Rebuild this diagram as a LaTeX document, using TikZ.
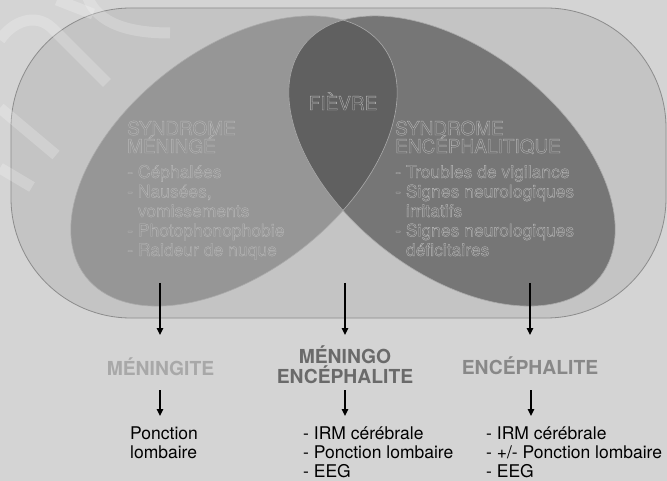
\documentclass[tikz,border=0pt]{standalone}
\usepackage{fontspec}
\setmainfont{TeX Gyre Heros}
\usetikzlibrary{arrows.meta}
\definecolor{bg}{HTML}{D4D4D4}
\definecolor{rectfill}{HTML}{C4C4C4}
\definecolor{rectline}{HTML}{8C8C8C}
\definecolor{lellip}{HTML}{969696}
\definecolor{rellip}{HTML}{767676}
\definecolor{lensc}{HTML}{606060}
\definecolor{ellline}{HTML}{ABABAB}
\definecolor{outtxt}{HTML}{B8B8B8}
\definecolor{labA}{HTML}{A8A8A8}
\definecolor{labB}{HTML}{6A6A6A}
\definecolor{labC}{HTML}{888888}
\newcommand\outlon{\special{pdf:literal direct 1 Tr 0.35 w}}
\newcommand\outloff{\special{pdf:literal direct 0 Tr}}
\tikzset{
  outl/.style={text=outtxt, inner sep=0pt, align=left, anchor=base west},
  headf/.style={font=\fontsize{19}{18}\selectfont},
  itmf/.style={font=\fontsize{17.5}{19.5}\selectfont},
  lab/.style={font=\bfseries\fontsize{19.3}{18}\selectfont, inner sep=0pt, anchor=base, align=center},
  lst/.style={font=\fontsize{17.5}{19}\selectfont, inner sep=0pt, anchor=base west, align=left},
  arr/.style={line width=1.3pt, -{Triangle[length=7pt,width=6.5pt]}},
  wmark/.style={white, opacity=0.22, line width=11pt},
  leftell/.style={rotate around={38:(234,161)}},
  rightell/.style={rotate around={-38:(452,161)}}
}
\begin{document}
\begin{tikzpicture}[x=1pt,y=-1pt]
\useasboundingbox (0,0) rectangle (667,481);
\fill[bg] (0,0) rectangle (667,481);
% frame
\draw[rectline, fill=rectfill, line width=0.8pt, rounded corners=120pt] (11,8) rectangle (666,318);
% faint watermark
\draw[wmark] (0,40) .. controls (12,22) and (35,12) .. (52,28) -- (107,83);
\draw[wmark] (0,108) -- (56,155);
\draw[wmark] (0,168) -- (32,187);
\draw[wmark] (57,0) -- (93,14);
\draw[wmark] (88,-2) .. controls (98,24) and (130,33) .. (170,33);
% ellipses
\fill[lellip, leftell] (234,161) ellipse [x radius=188, y radius=111];
\fill[rellip, rightell] (452,161) ellipse [x radius=188, y radius=111];
\begin{scope}
  \clip[leftell] (234,161) ellipse [x radius=188, y radius=111];
  \fill[lensc, rightell] (452,161) ellipse [x radius=188, y radius=111];
\end{scope}
\draw[ellline, line width=0.6pt, leftell] (234,161) ellipse [x radius=188, y radius=111];
\draw[ellline, line width=0.6pt, rightell] (452,161) ellipse [x radius=188, y radius=111];
% outlined texts (base anchor = last line)
\node[outl, anchor=base] (fievre) at (343,110) {\fontsize{19}{18}\selectfont\outlon FIÈVRE\outloff};
\node[outl, headf] (mhead) at (127,153) {\outlon SYNDROME\\MÉNINGÉ\outloff};
\node[outl, itmf] (mlist) at (127,256) {\outlon - Céphalées\\- Nausées,\\\phantom{- }vomissements\\- Photophonophobie\\- Raideur de nuque\outloff};
\node[outl, headf] (ehead) at (395,153) {\outlon SYNDROME\\ENCÉPHALITIQUE\outloff};
\node[outl, itmf] (elist) at (395,256) {\outlon - Troubles de vigilance\\- Signes neurologiques\\\phantom{- }irritatifs\\- Signes neurologiques\\\phantom{- }déficitaires\outloff};
% labels
\node[lab, text=labA] (men) at (160.5,375) {MÉNINGITE};
\node[lab, text=labB] (mid) at (345,383) {MÉNINGO\\ENCÉPHALITE};
\node[lab, text=labC] (enc) at (530,374) {ENCÉPHALITE};
% lists
\node[lst] (l1) at (130,458) {Ponction\\lombaire};
\node[lst] (l2) at (303,477) {- IRM cérébrale\\- Ponction lombaire\\- EEG};
\node[lst] (l3) at (486,477) {- IRM cérébrale\\- +/- Ponction lombaire\\- EEG};
% arrow ends
\coordinate (s1) at (160,283); \coordinate (t1) at (160,335);
\coordinate (s2) at (345,283); \coordinate (t2) at (345,335);
\coordinate (s3) at (530,283); \coordinate (t3) at (530,335);
\coordinate (u1) at (160,390); \coordinate (v1) at (160,416);
\coordinate (u2) at (345,390); \coordinate (v2) at (345,416);
\coordinate (u3) at (531,390); \coordinate (v3) at (531,416);
\draw[arr] (s1) -- (t1);
\draw[arr] (s2) -- (t2);
\draw[arr] (s3) -- (t3);
\draw[arr] (u1) -- (v1);
\draw[arr] (u2) -- (v2);
\draw[arr] (u3) -- (v3);
\end{tikzpicture}
\end{document}
